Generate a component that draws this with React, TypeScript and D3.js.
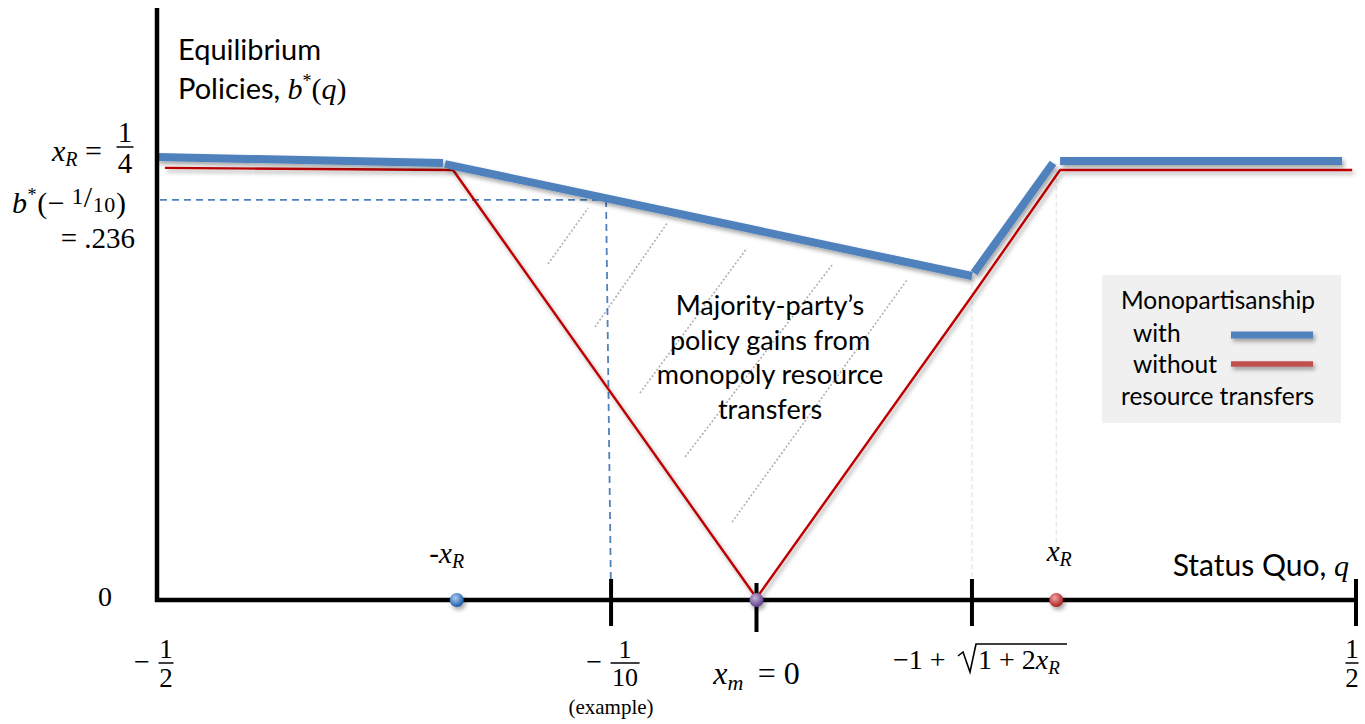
import React from 'react';
import * as d3 from 'd3';

// Schematic diagram: status quo q on the x axis, equilibrium policy b*(q) on the y axis.
// Positions are read off the picture (the sketch is not drawn to scale).
const blueLeft: [number, number][] = [[-0.5, 0.2517], [-0.2615, 0.2483]];
const blueMiddle: [number, number][] = [[-0.2598, 0.2477], [0.1797, 0.1841]];
const blueRise: [number, number][] = [[0.1814, 0.1858], [0.2473, 0.2483]];
const blueRight: [number, number][] = [[0.2532, 0.2494], [0.4884, 0.2494]];
const redLine: [number, number][] = [
  [-0.4934, 0.2455], [-0.2531, 0.2443], [0, 0.0011], [0.1797, 0.1727], [0.2532, 0.2443], [0.4968, 0.2443]
];
const exampleQ = -0.1213;     // "-1/10 (example)" as pictured
const exampleB = 0.2273;      // ".236" as pictured
const kinkQ = 0.1797;         // -1 + sqrt(1 + 2 xR) as pictured
const hatchLines: [number, number, number, number][] = [
  [-0.1739, 0.1909, -0.1405, 0.2227],
  [-0.1347, 0.1551, -0.0738, 0.2148],
  [-0.0972, 0.1176, -0.0079, 0.2],
  [-0.0596, 0.0813, 0.063, 0.1903],
  [-0.0204, 0.0443, 0.1255, 0.1818]
];
const markerPoints = [
  { q: -0.25, id: 'ballBlue' },
  { q: 0, id: 'ballPurple' },
  { q: 0.25, id: 'ballRed' }
];
const gainLabel = ["Majority-party\u2019s", 'policy gains from', 'monopoly resource', 'transfers'];
const legendLabels = ['Monopartisanship', 'with', 'without', 'resource transfers'];

const sans = 'Lato, "Open Sans", sans-serif';
const serif = '"Liberation Serif", "DejaVu Serif", serif';

const BLUE = '#4f81bd';
const RED = '#c00000';

const Frac = ({ x, y, num, den, size = 24, w = 14 }) => (
  <g fontFamily={serif} fontSize={size} textAnchor="middle">
    <text x={x} y={y - 5}>{num}</text>
    <line x1={x - w / 2} x2={x + w / 2} y1={y} y2={y} stroke="#000" strokeWidth={1.5} />
    <text x={x} y={y + size * 0.88}>{den}</text>
  </g>
);

export default function App() {
  const x = d3.scaleLinear().domain([-0.5, 0.5]).range([157, 1356]);
  const y = d3.scaleLinear().domain([0, 0.25]).range([600, 160]);
  const line = d3.line<[number, number]>().x(d => x(d[0])).y(d => y(d[1]));

  const balls = [
    { id: 'ballBlue', hi: '#a9cdf5', lo: '#1d5aa6' },
    { id: 'ballPurple', hi: '#c6b0dc', lo: '#5e3f86' },
    { id: 'ballRed', hi: '#f5a3a3', lo: '#a81e1e' }
  ];

  return (
    <svg width={1365} height={724} style={{ position: 'absolute', left: 0, top: 0, background: '#fff' }}>
      <defs>
        <filter id="shadow" filterUnits="userSpaceOnUse" x="0" y="0" width="1365" height="724">
          <feDropShadow dx="2" dy="3" stdDeviation="2" floodColor="#000" floodOpacity="0.35" />
        </filter>
        {balls.map(b => (
          <radialGradient key={b.id} id={b.id} cx="40%" cy="35%" r="65%">
            <stop offset="0%" stopColor={b.hi} />
            <stop offset="100%" stopColor={b.lo} />
          </radialGradient>
        ))}
      </defs>

      {/* hatch lines inside the gains region */}
      {hatchLines.map((h, i) => (
        <line key={i} x1={x(h[0])} y1={y(h[1])} x2={x(h[2])} y2={y(h[3])}
          stroke="#b0b0b0" strokeWidth={1.6} strokeDasharray="2,2" />
      ))}

      {/* faint guides */}
      <line x1={x(kinkQ)} x2={x(kinkQ)} y1={y(0.1841)} y2={y(0)} stroke="#e4e4e4" strokeWidth={1.2} strokeDasharray="5,3" />
      <line x1={x(0.25)} x2={x(0.25)} y1={y(0.2443)} y2={y(0.02)} stroke="#e4e4e4" strokeWidth={1.2} strokeDasharray="5,3" />

      {/* example dashed guides */}
      <line x1={x(-0.4975)} x2={x(exampleQ) - 5} y1={y(exampleB)} y2={y(exampleB)} stroke={BLUE} strokeWidth={1.8} strokeDasharray="7,5" />
      <line x1={x(exampleQ) - 5} x2={x(exampleQ)} y1={y(exampleB)} y2={y(0)} stroke={BLUE} strokeWidth={1.8} strokeDasharray="7,5" />

      {/* without transfers */}
      <path d={line(redLine) || ''} fill="none" stroke={RED} strokeWidth={2.4} strokeLinejoin="round" filter="url(#shadow)" />

      {/* with transfers */}
      {[blueLeft, blueMiddle, blueRise, blueRight].map((s, i) => (
        <path key={i} d={line(s) || ''} fill="none" stroke={BLUE} strokeWidth={8} filter="url(#shadow)" />
      ))}

      {/* axes */}
      <line x1={157} x2={157} y1={8} y2={602} stroke="#000" strokeWidth={4.5} />
      <line x1={155} x2={1356} y1={y(0)} y2={y(0)} stroke="#000" strokeWidth={4.5} />
      {[exampleQ, 0, kinkQ, 0.5].map((q, i) => (
        <line key={i} x1={x(q)} x2={x(q)} y1={i === 1 ? 583 : 579} y2={i === 1 ? 632 : 626} stroke="#000" strokeWidth={4} />
      ))}

      {markerPoints.map(p => (
        <circle key={p.id} cx={x(p.q)} cy={y(0)} r={7} fill={`url(#${p.id})`} filter="url(#shadow)" />
      ))}

      {/* y axis title */}
      <text x={178} y={60} fontFamily={sans} fontSize={29}>Equilibrium</text>
      <text x={178} y={99} fontFamily={sans} fontSize={29}>
        Policies,{' '}
        <tspan fontFamily={serif} fontSize={30} fontStyle="italic">b</tspan>
        <tspan fontFamily={serif} fontSize={18} dy={-12}>*</tspan>
        <tspan fontFamily={serif} fontSize={30} dy={12}>(</tspan>
        <tspan fontFamily={serif} fontSize={30} fontStyle="italic">q</tspan>
        <tspan fontFamily={serif} fontSize={30}>)</tspan>
      </text>

      {/* y labels */}
      <text x={52} y={161} fontFamily={serif} fontSize={30}>
        <tspan fontStyle="italic">x</tspan>
        <tspan fontSize={20} fontStyle="italic" dy={5}>R</tspan>
        <tspan dy={-5}>{' ='}</tspan>
      </text>
      <Frac x={125} y={147} num="1" den="4" size={29} w={17} />
      <text x={12} y={213} fontFamily={serif} fontSize={30} letterSpacing={0.6}>
        <tspan fontStyle="italic">b</tspan>
        <tspan fontSize={18} dy={-12}>*</tspan>
        <tspan dy={12}>(−</tspan>
        <tspan fontSize={23} dy={-9}>{' 1'}</tspan>
        <tspan fontSize={30} dy={3}>/</tspan>
        <tspan fontSize={22} dy={5}>10</tspan>
        <tspan fontSize={30} dy={1}>)</tspan>
      </text>
      <text x={135} y={248} fontFamily={serif} fontSize={29} textAnchor="end">= .236</text>
      <text x={105} y={606} fontFamily={serif} fontSize={28} textAnchor="middle">0</text>

      {/* x labels */}
      <text x={x(-0.5) - 15} y={671} fontFamily={serif} fontSize={28} textAnchor="middle">−</text>
      <Frac x={x(-0.5) + 9} y={663} num="1" den="2" size={27} w={15} />
      <text x={x(exampleQ) - 17} y={671} fontFamily={serif} fontSize={28} textAnchor="middle">−</text>
      <Frac x={x(exampleQ) + 14} y={663} num="1" den="10" size={26} w={29} />
      <text x={x(exampleQ)} y={714} fontFamily={serif} fontSize={21} textAnchor="middle">(example)</text>
      <text x={x(0)} y={684} fontFamily={serif} fontSize={32} textAnchor="middle">
        <tspan fontStyle="italic">x</tspan>
        <tspan fontSize={22} fontStyle="italic" dy={6}>m</tspan>
        <tspan dy={-6}>{' \u2009= 0'}</tspan>
      </text>
      <text x={893} y={669} fontFamily={serif} fontSize={28}>−1 +</text>
      <path d="M 958 656 L 963 652 L 970 672 L 976 644 L 1067 644" fill="none" stroke="#000" strokeWidth={1.6} />
      <text x={978} y={669} fontFamily={serif} fontSize={28}>
        <tspan>1 + 2</tspan>
        <tspan fontStyle="italic">x</tspan>
        <tspan fontSize={19} fontStyle="italic" dy={5}>R</tspan>
      </text>
      <Frac x={x(0.5) - 4} y={663} num="1" den="2" size={27} w={13} />

      <text x={x(-0.25) - 10} y={563} fontFamily={serif} fontSize={29} textAnchor="middle">
        <tspan>-</tspan>
        <tspan fontStyle="italic">x</tspan>
        <tspan fontSize={20} fontStyle="italic" dy={5}>R</tspan>
      </text>
      <text x={x(0.25) + 3} y={561} fontFamily={serif} fontSize={29} textAnchor="middle">
        <tspan fontStyle="italic">x</tspan>
        <tspan fontSize={20} fontStyle="italic" dy={5}>R</tspan>
      </text>
      <text x={1349} y={576} fontFamily={sans} fontSize={30} textAnchor="end">
        Status Quo,{' '}
        <tspan fontFamily={serif} fontSize={30} fontStyle="italic">q</tspan>
      </text>

      {/* annotation */}
      {gainLabel.map((t, i) => (
        <text key={t} x={770} y={315 + i * 34.5} fontFamily={sans} fontSize={27} textAnchor="middle">{t}</text>
      ))}

      {/* legend */}
      <rect x={1102} y={275} width={239} height={148} fill="#f0f0f0" />
      <text x={1121} y={309} fontFamily={sans} fontSize={24.5}>{legendLabels[0]}</text>
      <text x={1133} y={342} fontFamily={sans} fontSize={24.5}>{legendLabels[1]}</text>
      <text x={1133} y={373} fontFamily={sans} fontSize={24.5}>{legendLabels[2]}</text>
      <text x={1121} y={405} fontFamily={sans} fontSize={24.5}>{legendLabels[3]}</text>
      <line x1={1231} x2={1313} y1={335} y2={335} stroke={BLUE} strokeWidth={7} filter="url(#shadow)" />
      <line x1={1231} x2={1313} y1={364} y2={364} stroke="#c0504d" strokeWidth={5.5} filter="url(#shadow)" />
    </svg>
  );
}
